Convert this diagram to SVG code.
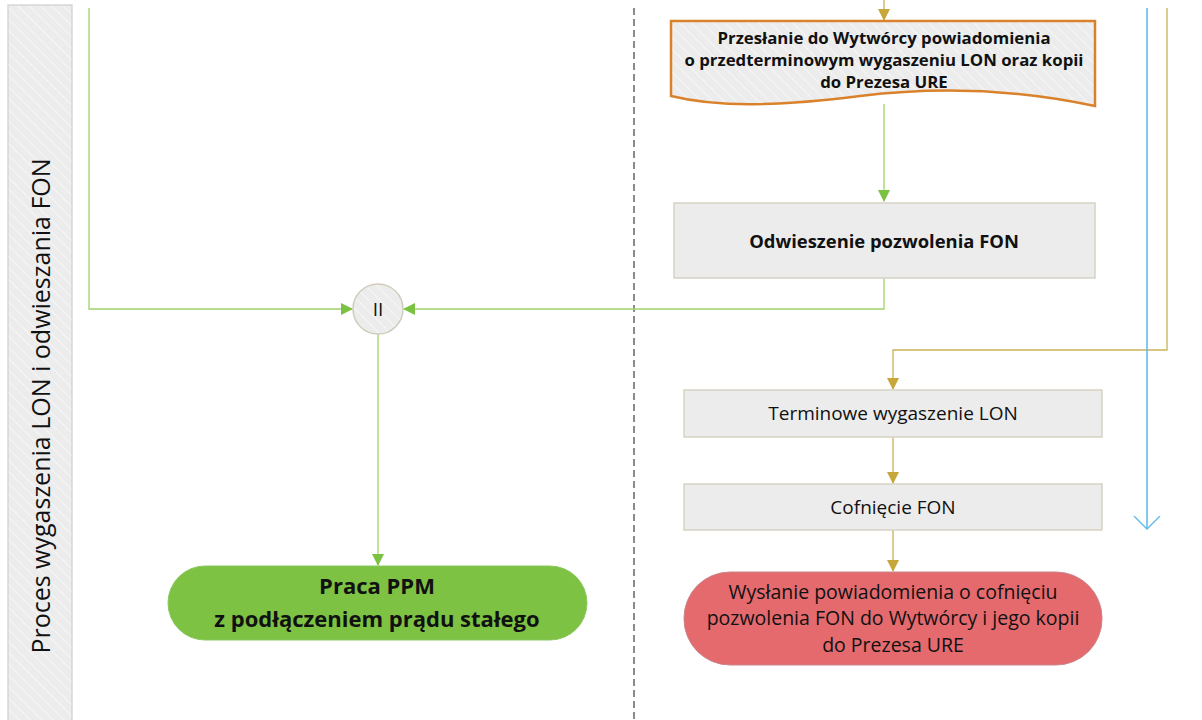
<svg xmlns="http://www.w3.org/2000/svg" width="1202" height="720" viewBox="0 0 1202 720">
<style>
.t{font-family:"Open Sans","Liberation Sans",sans-serif;fill:#111;text-anchor:middle}
.b{font-weight:bold}
.box{fill:#ececec;stroke:#d6d3c4;stroke-width:1.5}
.g{stroke:#9ed36a;stroke-width:1.3;fill:none}
.y{stroke:#c9b15a;stroke-width:1.3;fill:none}
</style>
<defs>
<pattern id="hatch" width="8" height="8" patternUnits="userSpaceOnUse" patternTransform="rotate(-45)">
<rect width="8" height="8" fill="#ececec"/><line x1="0" y1="0" x2="0" y2="8" stroke="#f6f6f6" stroke-width="2"/>
</pattern>
<marker id="ag" markerWidth="12" markerHeight="12" refX="11" refY="6" orient="auto" markerUnits="userSpaceOnUse"><path d="M0,0 L12,6 L0,12 z" fill="#7cc242"/></marker>
<marker id="ay" markerWidth="12" markerHeight="12" refX="11" refY="6" orient="auto" markerUnits="userSpaceOnUse"><path d="M0,0 L12,6 L0,12 z" fill="#c8a73a"/></marker>
<marker id="ab" markerWidth="14" markerHeight="28" refX="13" refY="14" orient="auto" markerUnits="userSpaceOnUse"><path d="M0,1 L13,14 L0,27" fill="none" stroke="#5bb8e8" stroke-width="1.3"/></marker>
</defs>
<rect width="1202" height="720" fill="#fff"/>
<g id="lane">
<rect x="8" y="5" width="64" height="720" fill="url(#hatch)" stroke="#cfcfcf" stroke-width="1.2"/>
<text class="t" x="0" y="0" font-size="25" transform="translate(50,406) rotate(-90)">Proces wygaszenia  LON i odwieszania FON</text>
</g>
<g id="connectors">
<line x1="634" y1="8" x2="634" y2="720" stroke="#666" stroke-width="1.5" stroke-dasharray="7,4"/>
<path class="g" d="M89,8 V309 H352" marker-end="url(#ag)"/>
<path class="g" d="M884,278 V309 H404" marker-end="url(#ag)"/>
<path class="g" d="M378,334 V565" marker-end="url(#ag)"/>
<path class="g" d="M884,104 V201" marker-end="url(#ag)"/>
<path class="y" d="M884,0 V20" marker-end="url(#ay)"/>
<path class="y" d="M1167,8 V350 H893 V389" marker-end="url(#ay)"/>
<path class="y" d="M893,437 V483" marker-end="url(#ay)"/>
<path class="y" d="M893,530 V571" marker-end="url(#ay)"/>
<path d="M1147,8 V529" stroke="#5bb8e8" stroke-width="1.5" fill="none" marker-end="url(#ab)"/>
</g>
<g id="doc">
<path d="M671,21 H1095 V106 C1020,90 940,86 860,96 C780,106 720,108 671,96 Z" fill="url(#hatch)" stroke="#d9822b" stroke-width="2.5"/>
<text class="t b" x="884" y="44" font-size="16.8">Przesłanie do Wytwórcy powiadomienia</text>
<text class="t b" x="884" y="66" font-size="16.8">o przedterminowym wygaszeniu LON oraz kopii</text>
<text class="t b" x="884" y="88" font-size="16.8">do Prezesa URE</text>
</g>
<g id="odwieszenie">
<rect class="box" x="674" y="203" width="421" height="75" fill="url(#hatch)"/>
<text class="t b" x="884" y="248" font-size="18.4">Odwieszenie pozwolenia FON</text>
</g>
<g id="merge">
<circle cx="378" cy="309" r="25" fill="url(#hatch)" stroke="#d0ccbc" stroke-width="1.5"/>
<text class="t" x="378" y="316" font-size="19">II</text>
</g>
<g id="ppm">
<rect x="168" y="566" width="419" height="74" rx="37" fill="#7dc242" stroke="#8cc860" stroke-width="1"/>
<text class="t b" x="377" y="594" font-size="22">Praca PPM</text>
<text class="t b" x="377" y="627" font-size="22">z podłączeniem prądu stałego</text>
</g>
<g id="terminowe">
<rect class="box" x="684" y="390" width="418" height="47" fill="url(#hatch)"/>
<text class="t" x="893" y="420" font-size="19">Terminowe wygaszenie LON</text>
</g>
<g id="cofniecie">
<rect class="box" x="684" y="484" width="418" height="46" fill="url(#hatch)"/>
<text class="t" x="893" y="514" font-size="19">Cofnięcie FON</text>
</g>
<g id="wyslanie">
<rect x="684" y="572" width="418" height="93" rx="46" fill="#e46a6e" stroke="#c9868a" stroke-width="1"/>
<text class="t" x="893" y="599" font-size="19.5">Wysłanie powiadomienia o cofnięciu</text>
<text class="t" x="893" y="625" font-size="19.5">pozwolenia FON do Wytwórcy i jego kopii</text>
<text class="t" x="893" y="652" font-size="19.5">do Prezesa URE</text>
</g>
</svg>
